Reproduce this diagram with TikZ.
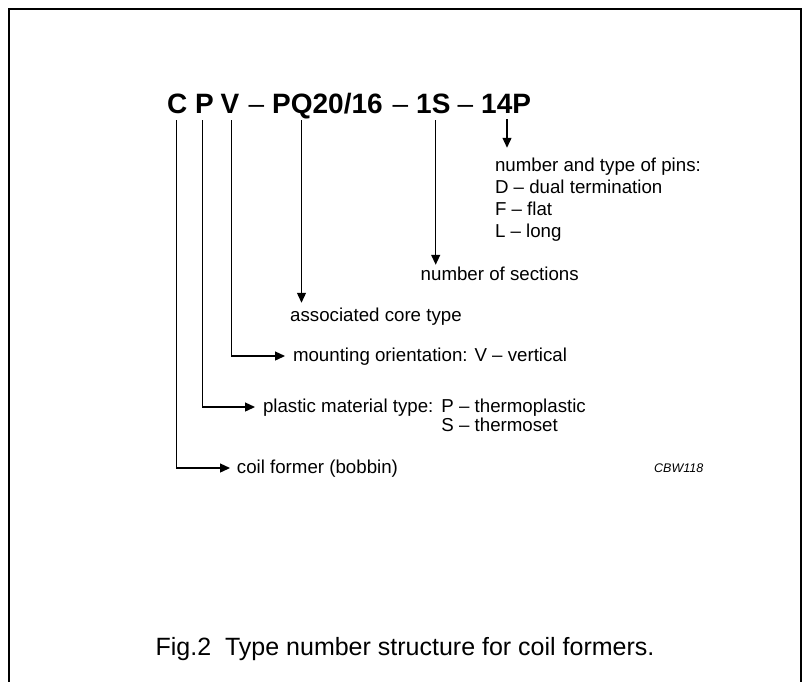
\documentclass[tikz,border=0pt]{standalone}
\usepackage{fontspec}
\setmainfont{Liberation Sans}
\usetikzlibrary{arrows.meta,calc}
\begin{document}
\begin{tikzpicture}[x=1pt,y=-1pt,
  title/.style={inner sep=0pt, anchor=base west, font=\fontsize{28}{32}\selectfont\bfseries},
  tdash/.style={inner sep=0pt, anchor=base west, font=\fontsize{28}{32}\selectfont},
  lbl/.style={inner sep=0pt, anchor=base west, font=\fontsize{18.7}{22}\selectfont},
  conn/.style={line width=1.3pt, -{Triangle[length=10pt,width=9pt]}},
  frameline/.style={line width=2pt}]
\useasboundingbox (0,0) rectangle (802,681);
\draw[frameline] (8.5,700) -- (8.5,9) -- (801,9) -- (801,700);

% type number
\node[title] (tC) at (166.8,113) {C};
\node[title] (tP) at (195,113) {P};
\node[title] (tV) at (220.5,113) {V};
\node[tdash] (d1) at (248.5,113) {–};
\node[title] (tPQ) at (272,113) {PQ20/16};
\node[tdash] (d2) at (392.5,113) {–};
\node[title] (tS) at (416,113) {1S};
\node[tdash] (d3) at (457.5,113) {–};
\node[title] (tPins) at (481,113) {14P};

% connector start points below the characters
\coordinate (sC) at (176.7,120);
\coordinate (sP) at (202.3,120);
\coordinate (sV) at (231.7,120);
\coordinate (sQ) at (301.5,120);
\coordinate (sS) at (435.7,120);
\coordinate (sPins) at (507,119);

% labels
\node[lbl] (lPins) at (494.8,171.5) {number and type of pins:};
\node[lbl] (lD) at (494.8,193.5) {D – dual termination};
\node[lbl] (lF) at (494.8,215.5) {F – flat};
\node[lbl] (lL) at (494.8,237.5) {L – long};
\node[lbl] (lSect) at (420.5,280.5) {number of sections};
\node[lbl] (lCore) at (290,321) {associated core type};
\node[lbl] (lMount) at (292.8,361) {mounting orientation: V – vertical};
\node[lbl] (lPlas) at (262.8,412) {plastic material type:};
\node[lbl] (lPlasP) at (441.2,412) {P – thermoplastic};
\node[lbl] (lPlasS) at ($(lPlasP.base west)+(0,19)$) {S – thermoset};
\node[lbl] (lCoil) at (236.7,473) {coil former (bobbin)};

\node[inner sep=0pt, anchor=base east, font=\fontsize{12.5}{14}\selectfont\itshape] (code) at (703.5,472.3) {CBW118};

% connectors
\draw[conn] (sPins) -- ($(sPins |- lPins.north)+(0,-10)$);
\draw[conn] (sS) -- ($(sS |- lSect.north)+(0,-2)$);
\draw[conn] (sQ) -- ($(sQ |- lCore.north)+(0,-4.5)$);
\draw[conn] (sV) |- ($(lMount.base west)+(-7.8,-5)$);
\draw[conn] (sP) |- ($(lPlas.base west)+(-7.8,-5)$);
\draw[conn] (sC) |- ($(lCoil.base west)+(-6.7,-5)$);

% caption
\node[inner sep=0pt, anchor=base, font=\fontsize{25}{29}\selectfont] (cap) at (405,655) {Fig.2\hspace{0.556em}Type number structure for coil formers.};
\end{tikzpicture}
\end{document}
